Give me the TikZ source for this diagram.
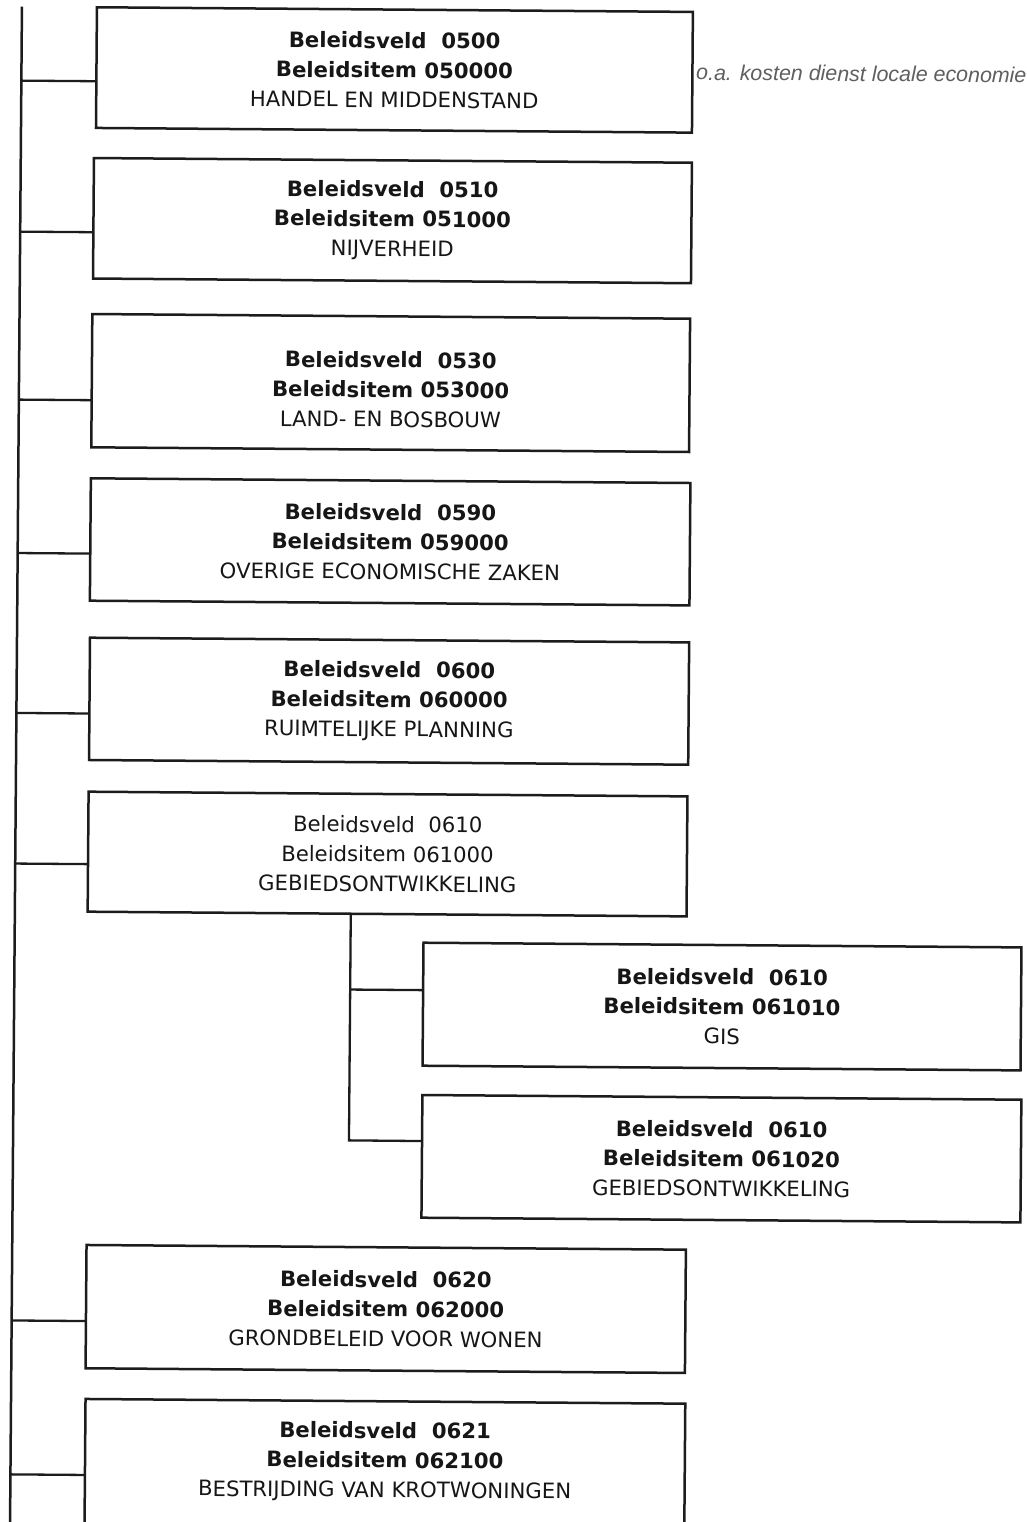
\documentclass[tikz,border=0pt]{standalone}
\usepackage{fontspec}
\setmainfont{DejaVu Sans}
\newfontfamily\annfont{Liberation Sans}
\usetikzlibrary{calc}
\definecolor{linec}{RGB}{28,28,28}
\definecolor{txtc}{RGB}{22,22,22}
\definecolor{annc}{RGB}{95,95,95}
\newcommand\boxfont{\fontsize{21.2}{29.6}\selectfont}
\tikzset{
  orgbox/.style={draw=linec, line width=2.5pt, rectangle, inner sep=0pt, outer sep=0pt,
    align=center, font=\boxfont, text=txtc},
  boxtext/.style={inner sep=0pt, outer sep=0pt, align=center, font=\boxfont, text=txtc},
  conn/.style={draw=linec, line width=2.3pt},
  trunk/.style={draw=linec, line width=2.5pt},
  ann/.style={inner sep=0pt, font=\annfont\itshape\fontsize{21.4}{26}\selectfont, text=annc}
}
\begin{document}
\begin{tikzpicture}[x=1pt,y=-1pt]
\useasboundingbox (0,0) rectangle (1027,1522);
\fill[white] (0,0) rectangle (1027,1522);
\clip (0,0) rectangle (1027,1522);
\begin{scope}[rotate around={-0.45:(0,0)}, transform shape]
  % boxes
  \node[orgbox, minimum width=596pt, minimum height=120.7pt] (b1) at (395,66.85)
    {\textbf{Beleidsveld~~0500}\\\textbf{Beleidsitem 050000}\\HANDEL EN MIDDENSTAND};
  \node[orgbox, minimum width=598pt, minimum height=120.5pt] (b2) at (394.2,217.55)
    {\textbf{Beleidsveld~~0510}\\\textbf{Beleidsitem 051000}\\NIJVERHEID};
  \node[orgbox, minimum width=597.8pt, minimum height=133.3pt] (b3) at (393.7,379.95) {};
  \node[boxtext] (t3) at ($(b3.center)+(0,6.5)$)
    {\textbf{Beleidsveld~~0530}\\\textbf{Beleidsitem 053000}\\LAND- EN BOSBOUW};
  \node[orgbox, minimum width=599.6pt, minimum height=122.4pt] (b4) at (394.4,538.8)
    {\textbf{Beleidsveld~~0590}\\\textbf{Beleidsitem 059000}\\OVERIGE ECONOMISCHE ZAKEN};
  \node[orgbox, minimum width=599.2pt, minimum height=122.3pt] (b5) at (394.6,698.15)
    {\textbf{Beleidsveld~~0600}\\\textbf{Beleidsitem 060000}\\RUIMTELIJKE PLANNING};
  \node[orgbox, minimum width=598.9pt, minimum height=120pt] (b6) at (394.25,851)
    {Beleidsveld~~0610\\Beleidsitem 061000\\GEBIEDSONTWIKKELING};
  \node[orgbox, minimum width=598pt, minimum height=123pt] (b7) at (729.9,1000.9)
    {\textbf{Beleidsveld~~0610}\\\textbf{Beleidsitem 061010}\\GIS};
  \node[orgbox, minimum width=599pt, minimum height=122.7pt] (b8) at (730.5,1153.05)
    {\textbf{Beleidsveld~~0610}\\\textbf{Beleidsitem 061020}\\GEBIEDSONTWIKKELING};
  \node[orgbox, minimum width=599.4pt, minimum height=123.3pt] (b9) at (396,1305.95)
    {\textbf{Beleidsveld~~0620}\\\textbf{Beleidsitem 062000}\\GRONDBELEID VOOR WONEN};
  \node[orgbox, minimum width=599.8pt, minimum height=126.7pt] (b10) at (396.4,1461.65) {};
  \node[boxtext] (t10) at ($(b10.center)+(0,-2.6)$)
    {\textbf{Beleidsveld~~0621}\\\textbf{Beleidsitem 062100}\\BESTRIJDING VAN KROTWONINGEN};

  % annotation
  \node[ann, anchor=base west] (note) at (696.6,74.5) {o.a. kosten dienst locale economie};

  % trunk
  \coordinate (mtop) at (22,6.5);
  \coordinate (mbot) at (22,1545);
  \draw[trunk] (mtop) -- (mbot);

  % connector points on box edges
  \coordinate (c1) at ($(b1.north west)!0.613!(b1.south west)$);
  \coordinate (c2) at ($(b2.north west)!0.616!(b2.south west)$);
  \coordinate (c3) at ($(b3.north west)!0.647!(b3.south west)$);
  \coordinate (c4) at ($(b4.north west)!0.616!(b4.south west)$);
  \coordinate (c5) at ($(b5.north west)!0.621!(b5.south west)$);
  \coordinate (c6) at ($(b6.north west)!0.605!(b6.south west)$);
  \coordinate (c7) at ($(b7.north west)!0.387!(b7.south west)$);
  \coordinate (c8) at ($(b8.north west)!0.377!(b8.south west)$);
  \coordinate (c9) at ($(b9.north west)!0.619!(b9.south west)$);
  \coordinate (c10) at ($(b10.north west)!0.602!(b10.south west)$);

  \foreach \i in {1,2,3,4,5,6,9,10}{
    \draw[conn] (c\i) -- ($(mtop)!(c\i)!(mbot)$);
  }

  % sub branch
  \coordinate (stop) at ($(b6.south west)!0.4395!(b6.south east)$);
  \coordinate (sbot) at ($(stop)!(c8)!($(stop)+(0,200)$)$);
  \draw[conn, line join=miter] (stop) -- (sbot) -- (c8);
  \draw[conn] (c7) -- ($(stop)!(c7)!(sbot)$);
\end{scope}
\end{tikzpicture}
\end{document}
